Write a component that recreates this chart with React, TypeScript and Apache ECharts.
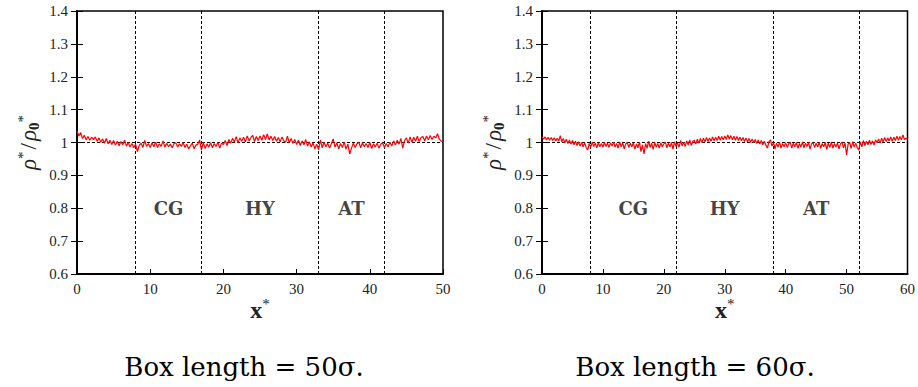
import React, { useEffect, useRef } from "react";
import * as echarts from "echarts";

const xStep = 0.25;

const densityBox50: number[] = [
  1.035, 1.020, 1.030, 1.012, 1.022, 1.008, 1.018, 1.007, 1.016, 1.009, 1.017, 1.004, 1.014, 1.001, 1.011, 0.998, 1.012, 0.996, 1.007, 0.994,
  1.006, 0.992, 1.004, 0.990, 1.003, 0.993, 1.007, 0.989, 1.000, 0.986, 0.997, 0.984, 0.995, 0.972, 0.991, 0.998, 0.985, 1.006, 0.988, 0.997,
  0.985, 0.999, 0.987, 1.001, 0.985, 0.996, 0.988, 1.005, 0.986, 0.998, 0.987, 0.995, 0.984, 0.997, 0.999, 0.986, 0.996, 0.988, 1.000, 0.985,
  0.995, 0.980, 0.990, 0.998, 0.981, 0.992, 0.995, 1.008, 0.977, 1.000, 0.982, 0.996, 0.986, 0.999, 0.984, 0.997, 0.988, 1.001, 0.983, 0.998,
  0.994, 1.006, 0.991, 1.009, 0.998, 1.013, 1.001, 1.018, 0.999, 1.014, 1.004, 1.016, 1.002, 1.020, 1.005, 1.015, 1.022, 1.003, 1.018, 1.006,
  1.020, 1.007, 1.024, 1.009, 1.026, 1.008, 1.019, 1.006, 1.018, 1.004, 1.015, 1.002, 1.017, 1.005, 1.001, 1.019, 0.999, 1.012, 0.997, 1.009,
  0.994, 1.007, 0.991, 1.005, 0.993, 1.009, 0.989, 1.002, 0.986, 0.999, 0.981, 0.995, 0.978, 1.007, 0.984, 1.000, 0.987, 0.998, 0.983, 0.996,
  1.011, 0.986, 0.999, 0.981, 0.997, 0.985, 1.001, 0.980, 0.995, 0.965, 0.983, 0.998, 0.985, 0.996, 1.001, 0.984, 0.999, 0.987, 0.997, 0.985,
  1.000, 0.982, 0.996, 0.986, 0.998, 0.983, 0.995, 0.999, 0.985, 0.997, 0.987, 1.001, 0.989, 1.005, 0.992, 1.007, 0.995, 1.012, 0.983, 1.006,
  1.014, 0.998, 1.017, 1.001, 1.016, 1.004, 1.019, 1.003, 1.015, 1.018, 1.005, 1.020, 1.008, 1.021, 1.009, 1.019, 1.014, 1.027, 1.010, 1.004,
  1.003,
];

const densityBox60: number[] = [
  1.018, 1.010, 1.017, 1.008, 1.016, 1.007, 1.015, 1.006, 1.014, 1.005, 1.013, 1.004, 1.021, 1.002, 1.012, 0.999, 1.010, 0.997, 1.008, 0.995,
  1.006, 0.993, 1.004, 0.991, 1.002, 0.989, 1.000, 0.987, 0.999, 0.985, 0.977, 0.997, 0.986, 1.001, 0.988, 0.998, 0.984, 0.999, 0.987, 0.997,
  0.986, 1.000, 0.988, 0.998, 0.985, 0.999, 0.989, 1.001, 0.986, 0.997, 0.983, 1.002, 0.987, 0.999, 0.981, 0.996, 1.000, 0.985, 0.998, 0.987,
  0.999, 0.980, 0.996, 0.984, 1.001, 0.972, 0.993, 0.965, 0.997, 0.982, 1.004, 0.985, 0.998, 0.979, 1.000, 0.986, 0.997, 0.983, 0.999, 0.987,
  0.996, 1.001, 0.984, 0.998, 0.986, 1.000, 0.980, 1.002, 0.988, 0.999, 0.986, 1.006, 0.990, 1.001, 0.988, 1.005, 0.992, 1.008, 0.991, 1.004,
  1.007, 0.995, 1.010, 0.998, 1.012, 1.000, 1.013, 1.002, 1.015, 1.003, 1.014, 1.004, 1.017, 1.005, 1.016, 1.006, 1.019, 1.007, 1.018, 1.008,
  1.020, 1.009, 1.023, 1.010, 1.021, 1.008, 1.019, 1.007, 1.018, 1.006, 1.016, 1.005, 1.015, 1.003, 1.014, 1.002, 1.012, 1.000, 1.011, 0.999,
  1.009, 0.997, 1.008, 0.995, 1.006, 0.993, 1.004, 0.992, 0.983, 1.002, 1.008, 0.989, 1.000, 0.981, 0.998, 0.986, 1.001, 0.983, 0.997, 0.987,
  0.999, 0.985, 0.996, 1.001, 0.983, 0.998, 0.987, 1.000, 0.982, 0.997, 0.986, 1.002, 0.984, 0.998, 0.988, 1.000, 0.980, 0.996, 0.999, 0.985,
  0.998, 0.986, 1.001, 0.982, 0.997, 0.987, 1.000, 0.979, 0.998, 0.985, 1.002, 0.983, 0.997, 0.986, 0.999, 0.981, 0.996, 1.001, 0.984, 0.998,
  0.962, 0.995, 1.000, 0.982, 1.003, 0.986, 0.998, 0.984, 0.977, 1.002, 0.987, 1.006, 0.991, 1.004, 0.993, 1.007, 0.994, 1.005, 0.992, 1.008,
  0.999, 1.011, 0.998, 1.013, 1.002, 1.015, 1.003, 1.014, 1.005, 1.017, 1.004, 1.016, 1.006, 1.019, 1.007, 1.018, 1.008, 1.023, 1.009, 1.013,
  1.011,
];

const boundaries50 = [8, 17, 33, 42];
const boundaries60 = [8, 22, 38, 52];
const regionLabels = ["CG", "HY", "AT"];
const regionCenters50 = [12.5, 25, 37.5];
const regionCenters60 = [15, 30, 45];
const regionLabelY = 0.8;
const referenceDensity = 1;
const xMax50 = 50;
const xMax60 = 60;
const captions = ["Box length = 50σ.", "Box length = 60σ."];

const SERIF = "'Liberation Serif', 'DejaVu Serif', serif";
const WIDE_SERIF = "'DejaVu Serif', 'Liberation Serif', serif";

function App() {
  const ref = useRef<HTMLDivElement>(null);

  useEffect(() => {
    if (!ref.current) return;
    const chart = echarts.init(ref.current, undefined, { renderer: "svg" });

    const gridDefs = [
      { left: 77, top: 11, width: 366, height: 263, xMax: xMax50, data: densityBox50, bounds: boundaries50, centers: regionCenters50 },
      { left: 542, top: 11, width: 366, height: 263, xMax: xMax60, data: densityBox60, bounds: boundaries60, centers: regionCenters60 },
    ];

    const tickLabel = { color: "#222", fontFamily: SERIF, fontSize: 15 };

    const yName = "{i|ρ}{sup|*}{n|/}{i|ρ}{sub|0}{sup|*}";
    const yNameRich = {
      i: { fontFamily: SERIF, fontStyle: "italic", fontSize: 23, color: "#222" },
      n: { fontFamily: SERIF, fontSize: 23, color: "#222", padding: [0, 2, 0, 2] },
      sup: { fontFamily: SERIF, fontSize: 15, color: "#222", padding: [0, 0, 12, 0] },
      sub: { fontFamily: SERIF, fontSize: 15, fontWeight: "bold", color: "#222", padding: [10, 0, 0, 0] },
    };
    const xName = "{b|x}{sup|*}";
    const xNameRich = {
      b: { fontFamily: SERIF, fontWeight: "bold", fontSize: 24, color: "#222" },
      sup: { fontFamily: SERIF, fontSize: 15, color: "#222", padding: [0, 0, 12, 0] },
    };

    const grid: any[] = [];
    const xAxis: any[] = [];
    const yAxis: any[] = [];
    const series: any[] = [];

    gridDefs.forEach((g, gi) => {
      grid.push({
        left: g.left, top: g.top, width: g.width, height: g.height,
        show: true, borderColor: "#000", borderWidth: 1.5, backgroundColor: "transparent",
      });
      xAxis.push({
        type: "value", gridIndex: gi, min: 0, max: g.xMax, interval: 10,
        axisLine: { show: true, onZero: false, lineStyle: { color: "#000", width: 2 } },
        axisTick: { show: true, inside: true, length: 5, lineStyle: { color: "#000" } },
        axisLabel: { ...tickLabel, margin: 7 },
        splitLine: { show: false },
        name: xName, nameLocation: "middle", nameGap: 22, nameMoveOverlap: false,
        nameTextStyle: { rich: xNameRich },
      });
      yAxis.push({
        type: "value", gridIndex: gi, min: 0.6, max: 1.4, interval: 0.1,
        axisLine: { show: true, onZero: false, lineStyle: { color: "#000", width: 2 } },
        axisTick: { show: true, inside: true, length: 6, lineStyle: { color: "#000" } },
        axisLabel: {
          ...tickLabel, margin: 9,
          formatter: (v: number) => (Math.abs(v - 1) < 1e-9 ? "1" : v.toFixed(1)),
        },
        splitLine: { show: false },
        name: yName, nameLocation: "middle", nameGap: 35, nameRotate: 90, nameMoveOverlap: false,
        nameTextStyle: { rich: yNameRich },
      });
      yAxis.push({
        type: "value", gridIndex: gi, position: "right", min: 0.6, max: 1.4, interval: 0.1,
        axisLine: { show: false },
        axisTick: { show: true, inside: true, length: 6, lineStyle: { color: "#000" } },
        axisLabel: { show: false },
        splitLine: { show: false },
      });

      const pts = g.data.map((v, i) => [i * xStep, v]);
      series.push({
        type: "line", xAxisIndex: gi, yAxisIndex: gi * 2, data: pts,
        showSymbol: false, symbol: "none",
        lineStyle: { color: "#ff0000", width: 1.2 },
        z: 5,
        markLine: {
          silent: true, symbol: ["none", "none"], label: { show: false },
          lineStyle: { color: "#000", type: [3, 2], width: 1 },
          data: [
            ...g.bounds.map((b) => ({ xAxis: b })),
            { yAxis: referenceDensity },
          ],
        },
      });
      series.push({
        type: "scatter", xAxisIndex: gi, yAxisIndex: gi * 2,
        symbolSize: 0, silent: true,
        data: g.centers.map((c, k) => [c, regionLabelY, regionLabels[k]]),
        label: {
          show: true, position: "inside",
          formatter: (p: any) => p.value[2],
          fontFamily: WIDE_SERIF, fontWeight: "bold", fontSize: 18, color: "#111",
        },
      });
    });

    chart.setOption({
      animation: false,
      backgroundColor: "#fff",
      grid, xAxis, yAxis, series,
      graphic: [
        {
          type: "text", x: 244, y: 367,
          style: { text: captions[0], font: `26px ${WIDE_SERIF}`, fill: "#000", textAlign: "center", textVerticalAlign: "middle" },
        },
        {
          type: "text", x: 695, y: 367,
          style: { text: captions[1], font: `26px ${WIDE_SERIF}`, fill: "#000", textAlign: "center", textVerticalAlign: "middle" },
        },
      ],
    });

    return () => chart.dispose();
  }, []);

  return (
    <div
      ref={ref}
      style={{ position: "fixed", left: 0, top: 0, width: 918, height: 387 }}
    />
  );
}

export default App;
